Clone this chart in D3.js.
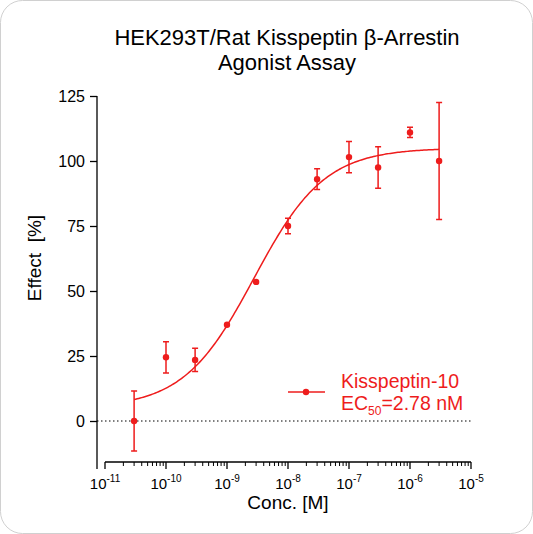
<!DOCTYPE html>
<html><head><meta charset="utf-8">
<script src="https://cdn.jsdelivr.net/npm/d3@7"></script>
<style>body{margin:0;background:#fff}text{font-family:Arial,"Liberation Sans",sans-serif}</style>
</head><body>
<svg id="c" width="533" height="534"></svg>
<script>
var concs = [3e-11, 1e-10, 3e-10, 1e-9, 3e-9, 1e-8, 3e-8, 1e-7, 3e-7, 1e-6, 3e-6];
var effect = [0, 24.5, 23.5, 37, 53.5, 75, 93, 101.5, 97.5, 111, 100];
var errs = [11.5, 6, 4.5, 0, 0, 3, 4, 6, 8, 2, 22.5];
var yTicks = [0, 25, 50, 75, 100, 125];
var xExps = [-11, -10, -9, -8, -7, -6, -5];
// fitted curve parameters
var fitBottom = 5, fitTop = 105, ec50 = 2.78e-9, hill = 0.75;

var svg = d3.select('#c');
var red = '#ee1c1c';
svg.append('rect').attr('x', 0.5).attr('y', 0.5).attr('width', 532).attr('height', 533)
    .attr('rx', 22).attr('fill', '#fff').attr('stroke', '#d0d0d0');

var x = d3.scaleLog().domain([1e-11, 1e-5]).range([105, 471]);
var y = d3.scaleLinear().domain([0, 125]).range([421, 96]);

svg.append('text').attr('x', 287).attr('y', 45).attr('text-anchor', 'middle')
    .attr('font-size', 22).text('HEK293T/Rat Kisspeptin β-Arrestin');
svg.append('text').attr('x', 287).attr('y', 70).attr('text-anchor', 'middle')
    .attr('font-size', 22).text('Agonist Assay');

// y axis
var ya = svg.append('g').attr('transform', 'translate(97,0)')
    .call(d3.axisLeft(y).tickValues(yTicks).tickSize(7).tickPadding(5));
ya.selectAll('text').attr('font-size', 16).attr('fill', '#000');
ya.select('.domain').attr('d', 'M0,' + y(125) + 'V' + y(-18.5));
ya.selectAll('path,line').attr('stroke', '#000').attr('stroke-width', 1.3);

// x axis
var minor = [];
xExps.slice(0, -1).forEach(function(e) {
    for (var k = 2; k < 10; k++) minor.push(k * Math.pow(10, e));
});
var xa = svg.append('g').attr('transform', 'translate(0,462)');
xa.append('path').attr('d', 'M' + x(1e-11) + ',0H' + x(1e-5)).attr('stroke', '#000').attr('stroke-width', 1.3);
xa.selectAll('.mn').data(minor).enter().append('line')
    .attr('x1', function(d) { return x(d); }).attr('x2', function(d) { return x(d); })
    .attr('y2', 4).attr('stroke', '#000');
xa.selectAll('.mj').data(xExps).enter().append('line')
    .attr('x1', function(d) { return x(Math.pow(10, d)); }).attr('x2', function(d) { return x(Math.pow(10, d)); })
    .attr('y2', 7).attr('stroke', '#000').attr('stroke-width', 1.3);
var lbl = xa.selectAll('.lb').data(xExps).enter().append('text')
    .attr('x', function(d) { return x(Math.pow(10, d)); }).attr('y', 27)
    .attr('text-anchor', 'middle').attr('font-size', 15);
lbl.append('tspan').text('10');
lbl.append('tspan').attr('font-size', 10).attr('dy', -7).text(function(d) { return '-' + Math.abs(d); });

svg.append('text').attr('x', 288).attr('y', 509).attr('text-anchor', 'middle')
    .attr('font-size', 19).text('Conc. [M]');
svg.append('text').attr('transform', 'translate(41,258) rotate(-90)').attr('text-anchor', 'middle')
    .attr('font-size', 19).attr('xml:space', 'preserve').text('Effect  [%]');

// zero dotted line
svg.append('line').attr('x1', 97).attr('x2', x(1e-5)).attr('y1', y(0)).attr('y2', y(0))
    .attr('stroke', '#000').attr('stroke-dasharray', '1.5,2.5');

// fitted curve
var curve = d3.range(0, 201).map(function(i) {
    var lc = Math.log10(3e-11) + i / 200 * (Math.log10(3e-6) - Math.log10(3e-11));
    var c = Math.pow(10, lc);
    return [c, fitBottom + (fitTop - fitBottom) / (1 + Math.pow(ec50 / c, hill))];
});
svg.append('path').datum(curve).attr('fill', 'none').attr('stroke', red).attr('stroke-width', 1.5)
    .attr('d', d3.line().x(function(d) { return x(d[0]); }).y(function(d) { return y(d[1]); }));

// error bars + points
var pts = svg.append('g');
concs.forEach(function(c, i) {
    var cx = x(c);
    if (errs[i] > 0) {
        var t = y(effect[i] + errs[i]), b = y(effect[i] - errs[i]);
        pts.append('path').attr('d', 'M' + cx + ',' + t + 'V' + b + 'M' + (cx - 3) + ',' + t + 'H' + (cx + 3) + 'M' + (cx - 3) + ',' + b + 'H' + (cx + 3))
            .attr('stroke', red).attr('stroke-width', 1.5).attr('fill', 'none');
    }
    pts.append('circle').attr('cx', cx).attr('cy', y(effect[i])).attr('r', 3.2).attr('fill', red);
});

// legend
svg.append('line').attr('x1', 288).attr('x2', 325).attr('y1', 392).attr('y2', 392).attr('stroke', red).attr('stroke-width', 1.5);
svg.append('circle').attr('cx', 306).attr('cy', 392).attr('r', 3.2).attr('fill', red);
svg.append('text').attr('x', 341).attr('y', 388).attr('font-size', 19.5).attr('fill', red).text('Kisspeptin-10');
var ec = svg.append('text').attr('x', 341).attr('y', 410).attr('font-size', 19.5).attr('fill', red);
ec.append('tspan').text('EC');
ec.append('tspan').attr('font-size', 12).attr('dy', 5).text('50');
ec.append('tspan').attr('dy', -5).text('=2.78 nM');
</script>
</body></html>
